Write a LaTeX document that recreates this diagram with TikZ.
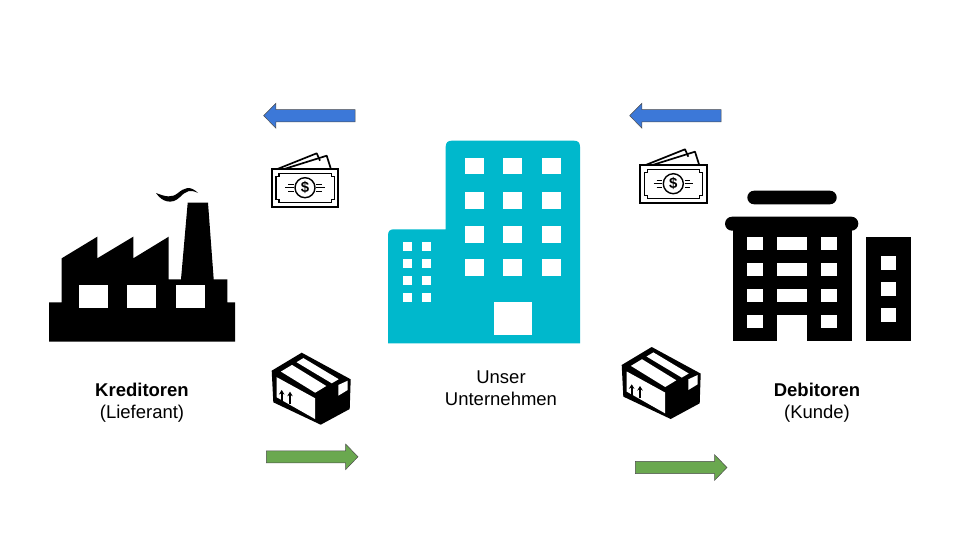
\documentclass[tikz,border=0pt]{standalone}
\usepackage{fontspec}
\setmainfont{Liberation Sans}
\usetikzlibrary{shapes.arrows,arrows.meta}
\definecolor{bluearrow}{HTML}{3C78D8}
\definecolor{greenarrow}{HTML}{6AA84F}
\definecolor{teal}{HTML}{00B8CC}
\tikzset{
    lbl/.style={align=center, font=\fontsize{18.5}{22.5}\selectfont},
    blu/.style={shape=single arrow, anchor=tip, draw=black!70, fill=bluearrow, line width=0.5pt, inner xsep=0pt, inner ysep=5.85pt, minimum height=91.5pt, single arrow head extend=6.4pt, single arrow tip angle=91, single arrow head indent=0pt, shape border rotate=180},
    grn/.style={shape=single arrow, anchor=tip, draw=black!70, fill=greenarrow, line width=0.5pt, inner xsep=0pt, inner ysep=5.8pt, minimum height=91.5pt, single arrow head extend=6.6pt, single arrow tip angle=92, single arrow head indent=0pt},
    cash/.pic={
        \draw[line width=1.7pt, line join=round] (5,0) -- (45,-16) -- (48.3,-8.6);
        \draw[line width=1.7pt, line join=round] (11.6,0) -- (55,-13.6) -- (59.3,0);
        \draw[line width=1.8pt, fill=white] (0,0) rectangle (66.6,37.4);
        \draw[line width=1.2pt] (7.3,4) -- (59.6,4) -- (59.6,7) -- (62.6,7) -- (62.6,30.4) -- (59.6,30.4) -- (59.6,33.4) -- (7.3,33.4) -- (7.3,30.4) -- (4.3,30.4) -- (4.3,7) -- (7.3,7) -- cycle;
        \draw[line width=1.4pt] (33.3,18.4) circle (10);
        \node[font=\fontsize{15}{15}\selectfont\bfseries, inner sep=0pt] (-dollar) at (33.3,18.4) {\$};
        \foreach \y/\l in {15/3, 18.4/0, 22/3} {
            \draw[line width=1.2pt] (13.5+\l,\y) -- (22,\y);
            \draw[line width=1.2pt] (44.6,\y) -- (53-\l,\y);
        }
    },
    parcel/.pic={
        \fill (30,0) -- (79,26.6) -- (78,56.3) -- (49,72) -- (1.6,49.6) -- (0,18) -- cycle;
        \fill[white] (9.2,18.9) -- (20.3,12.2) -- (54.6,33.3) -- (43.5,40) -- cycle;
        \fill[white] (24.8,9.5) -- (31.7,5.4) -- (67,26.5) -- (60.1,30.6) -- cycle;
        \fill[white] (5,24.5) -- (43.3,45.5) -- (43.3,66.3) -- (5,44.6) -- cycle;
        \fill[white] (66.6,32.3) -- (76,28) -- (76,37.3) -- (66.6,43) -- cycle;
        \draw[line width=1.8pt, -{Stealth[length=4.5pt,width=5.5pt]}] (10,49) -- (10,37.3);
        \draw[line width=1.8pt, -{Stealth[length=4.5pt,width=5.5pt]}] (18.3,51.3) -- (18.3,39);
    }
}
\begin{document}
\begin{tikzpicture}[x=1pt, y=-1pt]
    \useasboundingbox (0,0) rectangle (960,540);
    % factory
    \fill (49,341.7) -- (49,302.3) -- (61.7,302.3) -- (61.7,258.3) -- (97.3,236.7) -- (97.3,258.3) -- (133.3,236.7) -- (133.3,258.3) -- (168.7,236.7) -- (168.7,279.3) -- (181,279.3) -- (187.7,202.7) -- (208,202.7) -- (213.7,279.3) -- (227.3,279.3) -- (227.3,302.3) -- (235,302.3) -- (235,341.7) -- cycle;
    \fill (156,193) .. controls (166,197) and (172,198) .. (178,193) .. controls (184,188) and (190,185) .. (198,193) .. controls (190,189) and (186,191) .. (180,197) .. controls (172,205) and (162,202) .. (156,193) -- cycle;
    \foreach \x in {79.3,127.3,176.3} {
        \fill[white] (\x,285.3) rectangle (\x+28.4,308);
    }
    % our building
    \fill[teal] (388,343.3) -- (388,235.3) .. controls (388,231) and (390,229.3) .. (394,229.3) -- (445.7,229.3) -- (445.7,146.7) .. controls (445.7,142.5) and (448,140.7) .. (451.7,140.7) -- (574,140.7) .. controls (578,140.7) and (580,142.5) .. (580,146.7) -- (580,343.3) -- cycle;
    \foreach \x in {465,503.3,541.7} {
        \foreach \y in {157.7,191.7,225.7,259.3} {
            \fill[white] (\x,\y) rectangle (\x+19,\y+16.8);
        }
    }
    \fill[white] (493.7,301.7) rectangle (531.7,335);
    \foreach \x in {402.7,421.7} {
        \foreach \y in {242.3,259.3,276.3,293.3} {
            \fill[white] (\x,\y) rectangle (\x+9.5,\y+8.3);
        }
    }
    % customer building
    \fill[rounded corners=6.8pt] (747.3,190.7) rectangle (836.7,204.3);
    \fill[rounded corners=7pt] (725,216.7) rectangle (858.3,230.7);
    \fill (732.7,225) rectangle (851.7,341.3);
    \fill (865.7,236.7) rectangle (910.7,341.3);
    \fill[white] (777,315) rectangle (806.7,342);
    \foreach \y in {236.7,262.7,288.7,315} {
        \fill[white] (747.3,\y) rectangle (762.7,\y+13.3);
        \fill[white] (821.3,\y) rectangle (836.7,\y+13.3);
    }
    \foreach \y in {236.7,262.7,288.7} {
        \fill[white] (777,\y) rectangle (806.7,\y+13.3);
    }
    \foreach \y in {256.3,282.3,308.3} {
        \fill[white] (880.7,\y) rectangle (895.7,\y+13.2);
    }
    % flows
    \node[blu] (pay1) at (263.3,115.7) {};
    \node[blu] (pay2) at (629.3,115.7) {};
    \node[grn] (ship1) at (358.3,456.8) {};
    \node[grn] (ship2) at (727.3,467.5) {};
    \pic (cash1) at (271.7,169.3) {cash};
    \pic (cash2) at (640,165.3) {cash};
    \pic (parcel1) at (271.7,352.7) {parcel};
    \pic (parcel2) at (621.7,347) {parcel};
    % labels
    \node[lbl] (kreditor) at (142,402.5) {\textbf{Kreditoren}\\(Lieferant)};
    \node[lbl] (firma) at (501,388) {Unser\\Unternehmen};
    \node[lbl] (debitor) at (817,402.5) {\textbf{Debitoren}\\(Kunde)};
\end{tikzpicture}
\end{document}
